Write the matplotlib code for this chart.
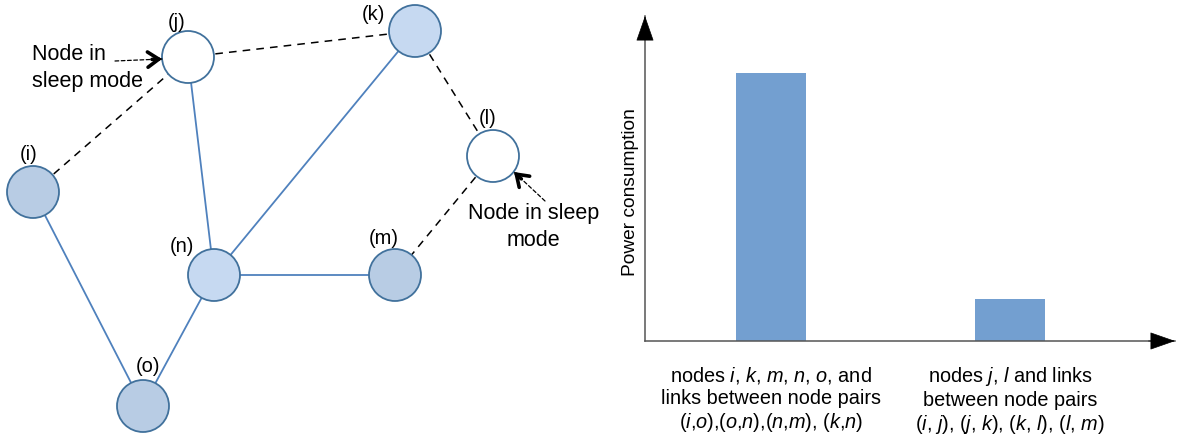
import matplotlib
matplotlib.use("Agg")
import matplotlib.pyplot as plt
from matplotlib.patches import Circle

plt.rcParams['font.family'] = ['Liberation Sans', 'DejaVu Sans']
plt.rcParams['mathtext.fontset'] = 'custom'
plt.rcParams['mathtext.rm'] = 'Liberation Sans'
plt.rcParams['mathtext.it'] = 'Liberation Sans:italic'

# ---------------- data ----------------
node_names = ['i', 'j', 'k', 'l', 'm', 'n', 'o']
sleeping_nodes = ['j', 'l']
active_links = [('i', 'o'), ('o', 'n'), ('n', 'm'), ('k', 'n'), ('j', 'n')]
sleep_links = [('i', 'j'), ('j', 'k'), ('k', 'l'), ('l', 'm')]

bar_categories = [
    "nodes $i$, $k$, $m$, $n$, $o$, and\nlinks between node pairs\n($i$,$o$),($o$,$n$),($n$,$m$), ($k$,$n$)",
    "nodes $j$, $l$ and links\nbetween node pairs\n($i$, $j$), ($j$, $k$), ($k$, $l$), ($l$, $m$)",
]
power_values = [1.0, 0.157]
y_label = "Power consumption"
sleep_note_left = ["Node in", "sleep mode"]
sleep_note_right = ["Node in sleep", "mode"]

# ---------------- layout (diagram positions, pixel units) ----------------
layout = {'i': (33, 192), 'j': (188, 57), 'k': (415, 31), 'l': (493, 156),
          'm': (395, 275), 'n': (214, 275), 'o': (143, 406)}
label_offset = {'i': (-4, -37), 'j': (-11, -34), 'k': (-42, -16), 'l': (-5, -38),
                'm': (-11, -36), 'n': (-32, -28), 'o': (5, -40)}
fill_color = {'i': '#b8cce4', 'm': '#b8cce4', 'o': '#b8cce4',
              'k': '#c6d9f1', 'n': '#c6d9f1', 'j': 'white', 'l': 'white'}
R = 26

fig = plt.figure(figsize=(11.79, 4.38), dpi=100)
fig.patch.set_facecolor('white')

# ---------------- left: network diagram ----------------
axd = fig.add_axes([0, 0, 600 / 1179, 1])
axd.set_xlim(0, 600)
axd.set_ylim(438, 0)
axd.axis('off')

for a, b in active_links:
    (x1, y1), (x2, y2) = layout[a], layout[b]
    axd.plot([x1, x2], [y1, y2], color='#4f81bd', lw=1.3, zorder=1,
             solid_capstyle='butt')
for a, b in sleep_links:
    (x1, y1), (x2, y2) = layout[a], layout[b]
    axd.plot([x1, x2], [y1, y2], color='black', lw=1.1, zorder=1,
             dashes=(5, 4))

for n in node_names:
    x, y = layout[n]
    axd.add_patch(Circle((x, y), R, facecolor=fill_color[n],
                         edgecolor='#41719c', lw=1.3, zorder=2))
    dx, dy = label_offset[n]
    axd.text(x + dx, y + dy, f"({n})", fontsize=14.5, ha='center',
             va='center', zorder=3)

# sleep-mode notes
axd.text(32, 55, sleep_note_left[0], fontsize=15.5, ha='left', va='center')
axd.text(32, 82, sleep_note_left[1], fontsize=15.5, ha='left', va='center')
axd.text(468, 213, sleep_note_right[0], fontsize=15.5, ha='left', va='center',
         clip_on=False)
axd.text(533, 241, sleep_note_right[1], fontsize=15.5, ha='center', va='center',
         clip_on=False)


def sleep_arrow(start, tip):
    axd.annotate('', xy=tip, xytext=start,
                 arrowprops=dict(arrowstyle='-', color='black', lw=0.9,
                                 linestyle=(0, (3, 2)), shrinkA=0, shrinkB=0))
    sx, sy = start
    tx, ty = tip
    L = ((tx - sx) ** 2 + (ty - sy) ** 2) ** 0.5
    hx, hy = tx - (tx - sx) / L * 10, ty - (ty - sy) / L * 10
    axd.annotate('', xy=tip, xytext=(hx, hy),
                 arrowprops=dict(arrowstyle='->,head_length=0.8,head_width=0.55',
                                 color='black', lw=2.6, shrinkA=0, shrinkB=0,
                                 joinstyle='miter'))


sleep_arrow((115, 61), (162, 59))
sleep_arrow((545, 201), (514, 172))

# ---------------- right: bar chart ----------------
ax = fig.add_axes([645 / 1179, (438 - 341) / 438, 530 / 1179, 325 / 438])
pos = list(range(len(power_values)))
ax.bar(pos, power_values, width=0.293, color='#739fd0', zorder=2)
ax.set_xlim(-0.527, 1.690)
ax.set_ylim(0, 1.2127)
for s in ['top', 'right']:
    ax.spines[s].set_visible(False)
for s in ['left', 'bottom']:
    ax.spines[s].set_color('#555555')
    ax.spines[s].set_linewidth(1.1)
ax.set_yticks([])
ax.set_xticks(pos)
ax.set_xticklabels(bar_categories, fontsize=14.3, linespacing=1.2)
ax.tick_params(axis='x', length=0, pad=17)
ax.text(-0.0283, 0.458, y_label, transform=ax.transAxes, rotation=90,
        fontsize=13.8, ha='center', va='center')

# axis arrow heads
ax.annotate('', xy=(0, 1), xytext=(0, 0.93), xycoords='axes fraction',
            arrowprops=dict(arrowstyle='-|>,head_length=1.66,head_width=0.58',
                            color='black', lw=0.5, mutation_scale=10,
                            shrinkA=0, shrinkB=0), annotation_clip=False)
ax.annotate('', xy=(1, 0), xytext=(0.95, 0), xycoords='axes fraction',
            arrowprops=dict(arrowstyle='-|>,head_length=1.66,head_width=0.58',
                            color='black', lw=0.5, mutation_scale=10,
                            shrinkA=0, shrinkB=0), annotation_clip=False)

fig.savefig('out.png', dpi=100, facecolor='white')
